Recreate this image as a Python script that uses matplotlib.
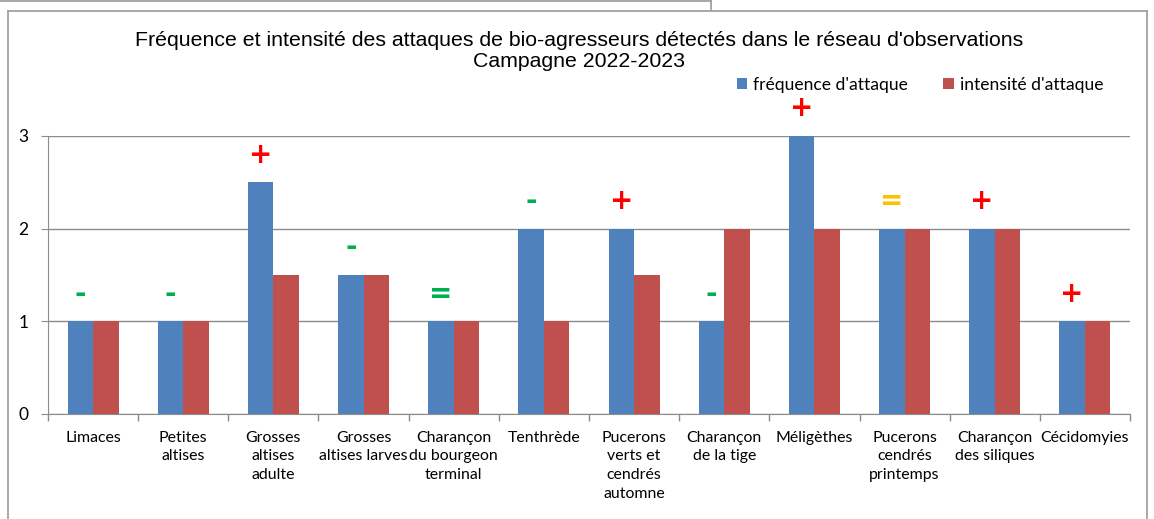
import numpy as np
import matplotlib
matplotlib.use('Agg')
import matplotlib.pyplot as plt
from matplotlib.lines import Line2D

categories = ["Limaces", "Petites\naltises", "Grosses\naltises\nadulte",
              "Grosses\naltises larves", "Charançon\ndu bourgeon\nterminal",
              "Tenthrède", "Pucerons\nverts et\ncendrés\nautomne",
              "Charançon\nde la tige", "Méligèthes", "Pucerons\ncendrés\nprintemps",
              "Charançon\ndes siliques", "Cécidomyies"]
frequence = [1, 1, 2.5, 1.5, 1, 2, 2, 1, 3, 2, 2, 1]
intensite = [1, 1, 1.5, 1.5, 1, 1, 1.5, 2, 2, 2, 2, 1]
tendance = ["-", "-", "+", "-", "=", "-", "+", "-", "+", "=", "+", "+"]
tendance_col = ["#00B050", "#00B050", "#FF0000", "#00B050", "#00B050", "#00B050",
                "#FF0000", "#00B050", "#FF0000", "#FFC000", "#FF0000", "#FF0000"]

label_font = "Lato"

fig = plt.figure(figsize=(11.54, 5.19), dpi=100)
ax = fig.add_axes([48/1154, 1-414/519, (1130-48)/1154, (414-136)/519])

x = np.arange(len(categories))
w = 0.283
ax.bar(x - w/2, frequence, width=w, color="#4F81BD", label="fréquence d'attaque", zorder=3)
ax.bar(x + w/2, intensite, width=w, color="#C0504D", label="intensité d'attaque", zorder=3)

for xi, f, s, c in zip(x, frequence, tendance, tendance_col):
    ax.text(xi - w/2, f + 0.3, s, ha='center', va='center', color=c,
            fontsize=20, fontweight='bold', family='DejaVu Sans', zorder=4)

ax.set_xlim(-0.5, len(categories) - 0.5)
ax.set_ylim(0, 3)
ax.set_yticks([0, 1, 2, 3])
ax.set_yticklabels(["0", "1", "2", "3"], family=label_font, fontsize=12.5)
ax.yaxis.grid(True, color="#8c8c8c", linewidth=1, zorder=0)
ax.tick_params(axis='y', length=5, color="#8c8c8c", pad=9)

ax.set_xticks(x)
ax.set_xticklabels(categories, family=label_font, fontsize=11.4, linespacing=1.42)
ax.tick_params(axis='x', length=0, pad=12)
ax.set_xticks(np.arange(-0.5, len(categories)), minor=True)
ax.tick_params(axis='x', which='minor', length=5, color="#8c8c8c", width=1)

for sp in ['top', 'right']:
    ax.spines[sp].set_visible(False)
for sp in ['left', 'bottom']:
    ax.spines[sp].set_color("#8c8c8c")

fig.text(579/1154, 1-51/519, "Fréquence et intensité des attaques de bio-agresseurs détectés dans le réseau d'observations\nCampagne 2022-2023",
         ha='center', va='center', fontsize=15.3, family='Liberation Sans', linespacing=1.1)

fig.legend(loc='center', bbox_to_anchor=(920/1154, 1-85/519), ncol=2, frameon=False,
           handlelength=0.6, handleheight=0.6, handletextpad=0.35, columnspacing=2.0,
           prop={'family': label_font, 'size': 12.6})

# frame of the chart object
fc = "#9a9a9a"
fig.add_artist(Line2D([8/1154, 8/1154], [0, 1-11/519], color=fc, lw=1.2))
fig.add_artist(Line2D([8/1154, 1147/1154], [1-11/519, 1-11/519], color=fc, lw=1.2))
fig.add_artist(Line2D([1147/1154, 1147/1154], [0, 1-11/519], color=fc, lw=1.2))
fig.add_artist(Line2D([0, 711/1154], [1-1/519, 1-1/519], color=fc, lw=1.2))
fig.add_artist(Line2D([711/1154, 711/1154], [1-1/519, 1-10/519], color=fc, lw=1.2))

fig.savefig("out.png", dpi=100)
